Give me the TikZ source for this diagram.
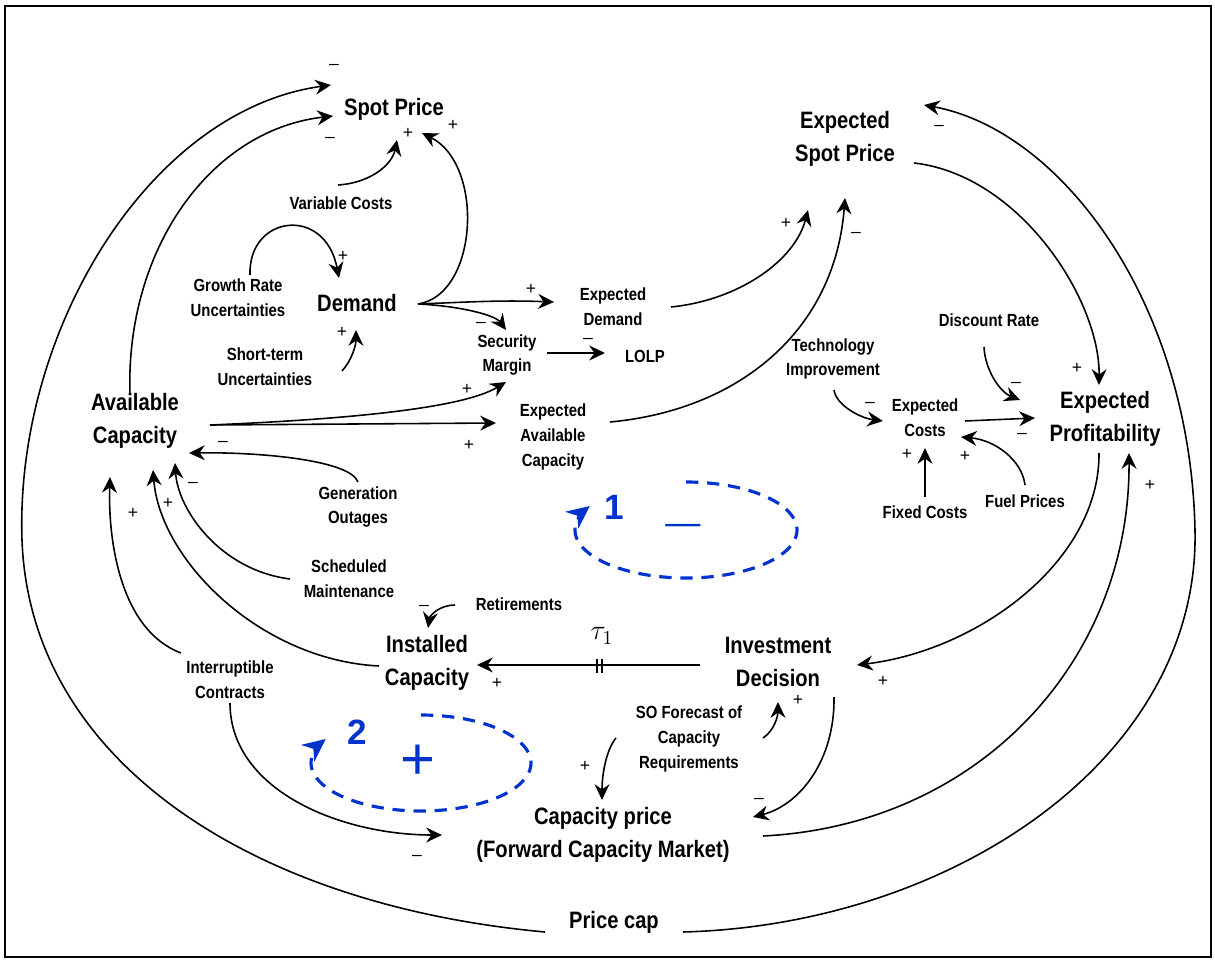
\RequirePackage{fix-cm}
\documentclass[tikz,border=0pt]{standalone}
\usepackage{fontspec}
\setmainfont{Liberation Sans}
\newfontfamily\nar[FakeStretch=0.85]{Liberation Sans}
\usetikzlibrary{arrows.meta}
\definecolor{loopblue}{RGB}{0,51,204}
\tikzset{
 big/.style={font=\nar\bfseries\fontsize{13.5}{18.5}\selectfont, align=center, inner sep=0pt},
 small/.style={font=\nar\bfseries\fontsize{10}{14}\selectfont, align=center, inner sep=0pt},
 sgn/.style={font=\fontsize{10}{12}\selectfont, inner sep=0pt},
 conn/.style={line width=0.9pt, -{Stealth[length=9pt,width=8.5pt,inset=3pt]}},
 loopline/.style={loopblue, line width=1.8pt, dash pattern=on 7pt off 5pt, -{Stealth[length=13pt,width=12pt,inset=4pt]}},
 looplbl/.style={text=loopblue, font=\bfseries\fontsize{20}{22}\selectfont, inner sep=0pt},
 loopsign/.style={text=loopblue, inner sep=0pt},
}
\begin{document}
\begin{tikzpicture}[x=0.02cm,y=-0.02cm]
\useasboundingbox (0,0) rectangle (1215,960);
\draw[line width=1.3pt] (5,6) rectangle (1211,957);

% nodes
\node[big] (sp) at (394,109) {Spot Price};
\node[big] (esp) at (845,139) {Expected\\Spot Price};
\node[small] (vc) at (341,203) {Variable Costs};
\node[small] (gr) at (238,298) {Growth Rate\\Uncertainties};
\node[big] (dem) at (357,303) {Demand};
\node[small] (st) at (265,367) {Short-term\\Uncertainties};
\node[small] (ed) at (613,307) {Expected\\Demand};
\node[small] (sm) at (507,355) {Security\\Margin};
\node[small] (lolp) at (645,356) {LOLP};
\node[small] (eac) at (553,437) {Expected\\Available\\Capacity};
\node[big] (ac) at (135,421) {Available\\Capacity};
\node[small] (go) at (358,507) {Generation\\Outages};
\node[small] (smt) at (349,579) {Scheduled\\Maintenance};
\node[small] (ret) at (519,604) {Retirements};
\node[big] (ic) at (427,663) {Installed\\Capacity};
\node[small] (int) at (230,680) {Interruptible\\Contracts};
\node[big] (inv) at (778,662) {Investment\\Decision};
\node[small] (so) at (689,739) {SO Forecast of\\Capacity\\Requirements};
\node[big] (cp) at (603,835) {Capacity price\\(Forward Capacity Market)};
\node[big] (pc) at (614,922) {Price cap};
\node[small] (tech) at (833,359) {Technology\\Improvement};
\node[small] (dr) at (989,320) {Discount Rate};
\node[small] (ec) at (925,418) {Expected\\Costs};
\node[big] (ep) at (1105,419) {Expected\\Profitability};
\node[small] (fc) at (925,512) {Fixed Costs};
\node[small] (fp) at (1025,501) {Fuel Prices};
\node[inner sep=0pt] (tau) at (602,636) {\fontsize{16}{18}\selectfont$\tau_1$};

% connector end points
\coordinate (pcL) at (545,932);
\coordinate (spA) at (331,85);
\coordinate (acT) at (130,395);
\coordinate (spB) at (333,116);
\coordinate (vcT) at (338,185);
\coordinate (spC) at (397,140);
\coordinate (demR) at (418,304);
\coordinate (spD) at (422,133);
\coordinate (grT) at (250,275);
\coordinate (demT) at (339,278);
\coordinate (stR) at (342,371);
\coordinate (demB) at (356,330);
\coordinate (edL) at (554,302);
\coordinate (smT) at (506,330);
\coordinate (smR) at (547,353);
\coordinate (lolpL) at (605,353);
\coordinate (acR) at (210,425);
\coordinate (smB) at (506,382);
\coordinate (eacL) at (496,423);
\coordinate (goT) at (358,482);
\coordinate (acA) at (189,453);
\coordinate (smtL) at (290,579);
\coordinate (acB) at (175,463);
\coordinate (icL) at (379,666);
\coordinate (acC) at (153,470);
\coordinate (intT) at (181,653);
\coordinate (acD) at (110,477);
\coordinate (retL) at (455,605);
\coordinate (icT) at (428,628);
\coordinate (invL) at (700,665);
\coordinate (icR) at (477,665);
\coordinate (intB) at (230,703);
\coordinate (cpL) at (442,835);
\coordinate (edR) at (671,307);
\coordinate (espA) at (808,210);
\coordinate (eacR) at (610,422);
\coordinate (espB) at (845,198);
\coordinate (espR) at (914,163);
\coordinate (epT) at (1099,385);
\coordinate (pcR) at (683,932);
\coordinate (espC) at (924,105);
\coordinate (cpR) at (763,836);
\coordinate (epB) at (1129,453);
\coordinate (epC) at (1099,453);
\coordinate (invR) at (857,665);
\coordinate (invB) at (834,697);
\coordinate (cpT) at (753,817);
\coordinate (soR) at (763,738);
\coordinate (invC) at (778,702);
\coordinate (soL) at (616,738);
\coordinate (cpU) at (602,800);
\coordinate (techB) at (834,390);
\coordinate (ecL) at (883,421);
\coordinate (drB) at (984,347);
\coordinate (epL) at (1020,400);
\coordinate (ecR) at (965,421);
\coordinate (epM) at (1035,418);
\coordinate (fcT) at (925,497);
\coordinate (ecB) at (925,448);
\coordinate (fpT) at (1025,485);
\coordinate (ecC) at (961,437);

% connectors
\draw[conn] (pcL) .. controls (250,905) and (30,760) .. (22,540) .. controls (15,330) and (150,110) .. (spA);
\draw[conn] (acT) .. controls (125,250) and (210,130) .. (spB);
\draw[conn] (vcT) .. controls (370,183) and (392,165) .. (spC);
\draw[conn] (demR) .. controls (478,295) and (485,165) .. (spD);
\draw[conn] (grT) .. controls (248,215) and (325,205) .. (demT);
\draw[conn] (stR) .. controls (352,360) and (356,345) .. (demB);
\draw[conn] (demR) .. controls (470,302) and (500,300) .. (edL);
\draw[conn] (demR) .. controls (460,306) and (495,315) .. (smT);
\draw[conn] (smR) -- (lolpL);
\draw[conn] (acR) .. controls (330,420) and (460,410) .. (smB);
\draw[conn] (acR) -- (eacL);
\draw[conn] (goT) .. controls (350,460) and (260,452) .. (acA);
\draw[conn] (smtL) .. controls (220,570) and (178,510) .. (acB);
\draw[conn] (icL) .. controls (260,660) and (160,560) .. (acC);
\draw[conn] (intT) .. controls (120,630) and (108,540) .. (acD);
\draw[conn] (retL) .. controls (440,605) and (430,615) .. (icT);
\draw[conn] (invL) -- (icR);
\draw[line width=0.9pt] (597,659) -- (597,673) (602,659) -- (602,673);
\draw[conn] (intB) .. controls (230,790) and (340,835) .. (cpL);
\draw[conn] (edR) .. controls (740,300) and (795,260) .. (espA);
\draw[conn] (eacR) .. controls (740,410) and (835,330) .. (espB);
\draw[conn] (espR) .. controls (1020,175) and (1100,300) .. (epT);
\draw[conn] (pcR) .. controls (950,925) and (1200,760) .. (1195,530) .. controls (1190,300) and (1060,130) .. (espC);
\draw[conn] (cpR) .. controls (980,825) and (1130,660) .. (epB);
\draw[conn] (epC) .. controls (1100,560) and (980,650) .. (invR);
\draw[conn] (invB) .. controls (835,760) and (800,805) .. (cpT);
\draw[conn] (soR) .. controls (775,730) and (778,715) .. (invC);
\draw[conn] (soL) .. controls (606,750) and (602,775) .. (cpU);
\draw[conn] (techB) .. controls (836,405) and (860,418) .. (ecL);
\draw[conn] (drB) .. controls (985,370) and (1000,392) .. (epL);
\draw[conn] (ecR) -- (epM);
\draw[conn] (fcT) -- (ecB);
\draw[conn] (fpT) .. controls (1022,460) and (995,440) .. (ecC);

% signs
\node[sgn] (s1) at (334,67) {–};
\node[sgn] (s2) at (330,140) {–};
\node[sgn] (s3) at (408,133) {+};
\node[sgn] (s4) at (453,125) {+};
\node[sgn] (s5) at (343,256) {+};
\node[sgn] (s6) at (342,332) {+};
\node[sgn] (s7) at (531,289) {+};
\node[sgn] (s8) at (481,325) {–};
\node[sgn] (s9) at (588,341) {–};
\node[sgn] (s10) at (467,389) {+};
\node[sgn] (s11) at (469,445) {+};
\node[sgn] (s12) at (223,444) {–};
\node[sgn] (s13) at (193,485) {–};
\node[sgn] (s14) at (168,503) {+};
\node[sgn] (s15) at (133,513) {+};
\node[sgn] (s16) at (424,608) {–};
\node[sgn] (s17) at (497,683) {+};
\node[sgn] (s18) at (417,858) {–};
\node[sgn] (s19) at (585,766) {+};
\node[sgn] (s20) at (798,700) {+};
\node[sgn] (s21) at (759,801) {–};
\node[sgn] (s22) at (883,681) {+};
\node[sgn] (s23) at (1150,485) {+};
\node[sgn] (s24) at (786,223) {+};
\node[sgn] (s25) at (856,235) {–};
\node[sgn] (s26) at (939,128) {–};
\node[sgn] (s27) at (1077,368) {+};
\node[sgn] (s28) at (870,405) {–};
\node[sgn] (s29) at (1016,385) {–};
\node[sgn] (s30) at (1022,436) {–};
\node[sgn] (s31) at (907,454) {+};
\node[sgn] (s32) at (965,456) {+};

% loops
\draw[loopline] plot[domain=-90:210, samples=90, smooth] ({686+111*cos(\x)},{530+48*sin(\x)});
\node[looplbl] (l1) at (614,507) {1};
\node[loopsign, font=\fontsize{20}{22}\selectfont] (l1s) at (683,529) {—};
\draw[loopline] plot[domain=-90:210, samples=90, smooth] ({421+110*cos(\x)},{763+48*sin(\x)});
\node[looplbl] (l2) at (357,732) {2};
\node[loopsign, font=\fontsize{34}{36}\selectfont] (l2s) at (418,762) {+};
\end{tikzpicture}
\end{document}
